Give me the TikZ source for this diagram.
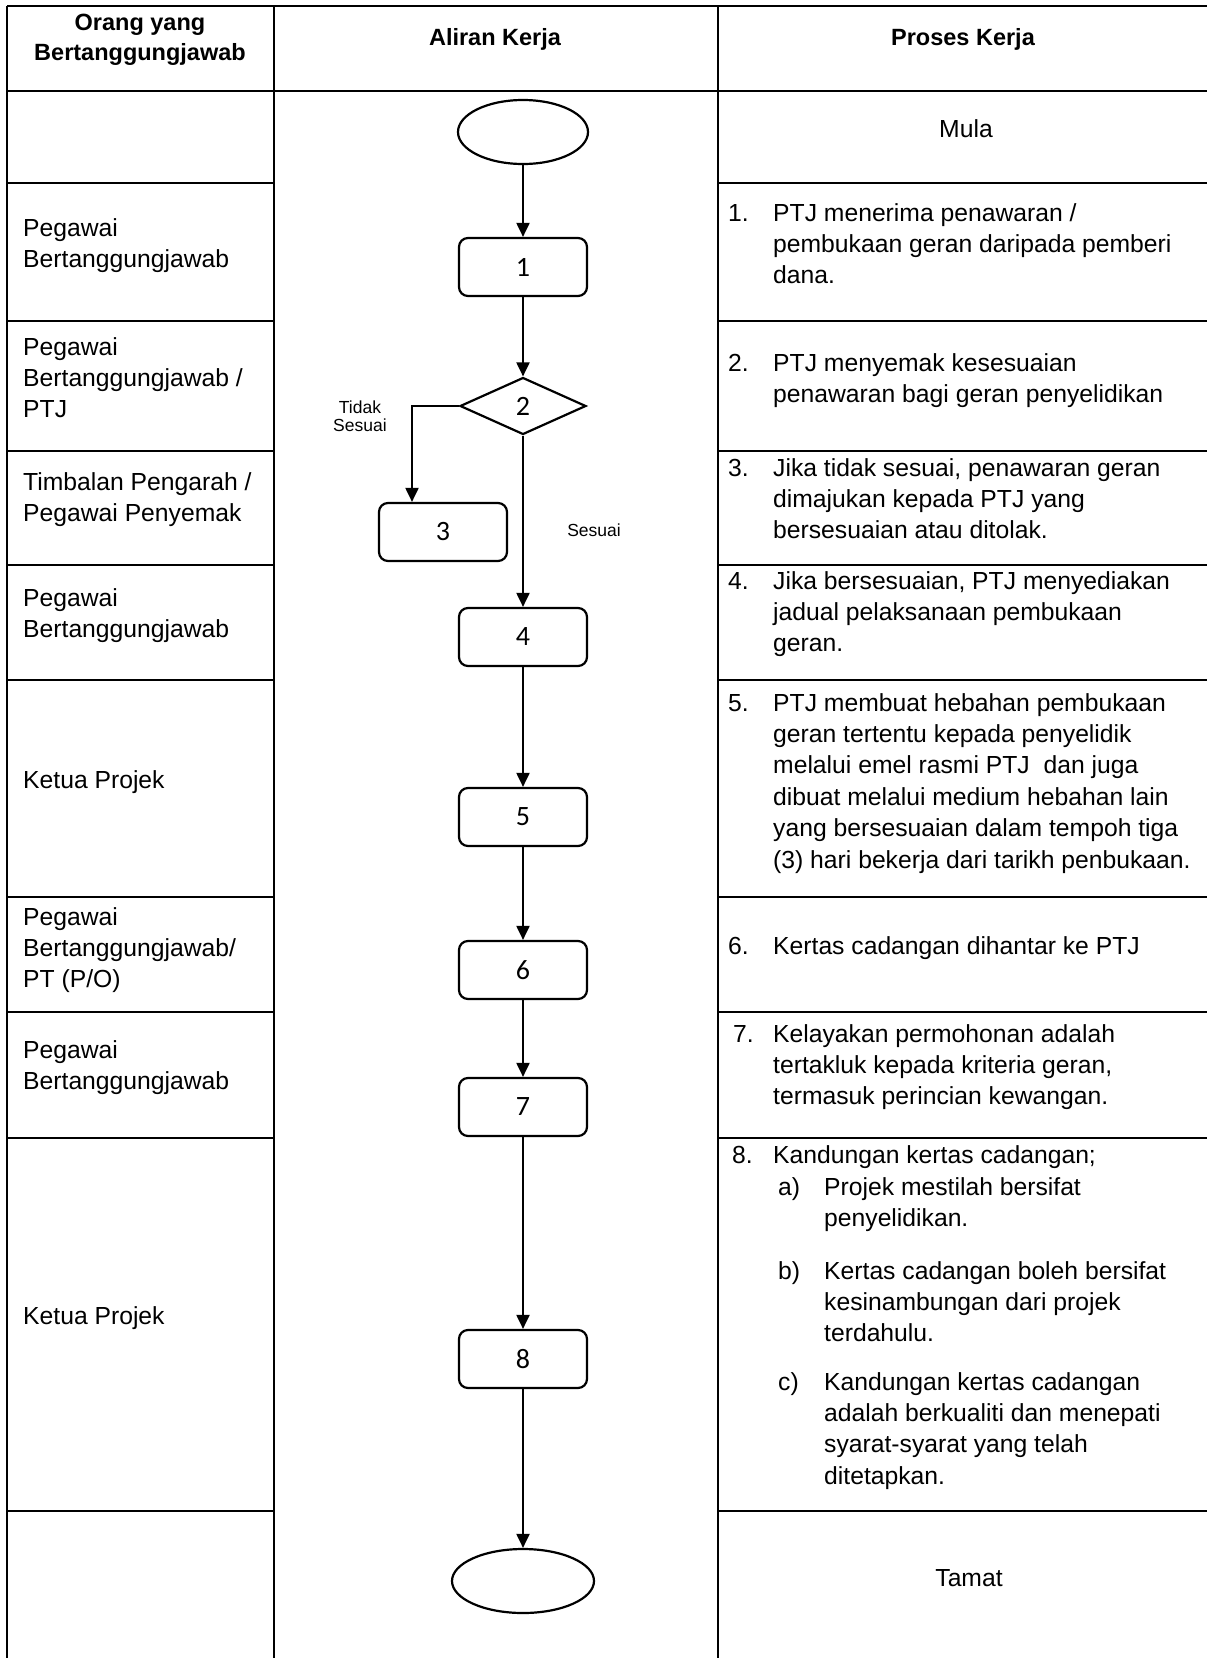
\documentclass[tikz,border=0pt]{standalone}
\usepackage{fontspec}
\setmainfont{Liberation Sans}
\newfontfamily\calibrifont{Carlito}
\usetikzlibrary{shapes.geometric,arrows.meta}
\begin{document}
\begin{tikzpicture}[x=1pt,y=-1pt,
  hrule/.style={line width=2.3pt},
  vrule/.style={line width=1.3pt},
  lbl/.style={anchor=north west,inner sep=0pt,align=left,font=\fontsize{24.7}{31.4}\selectfont},
  ctr/.style={anchor=center,inner sep=0pt,align=center,font=\fontsize{24.7}{31.4}\selectfont},
  hdr/.style={anchor=center,inner sep=0pt,align=center,font=\fontsize{23.5}{30}\selectfont\bfseries},
  term/.style={draw,ellipse,line width=2.2pt,minimum width=130pt,minimum height=64pt,inner sep=0pt},
  proc/.style={draw,rectangle,rounded corners=9pt,line width=2.2pt,minimum width=128pt,minimum height=58pt,inner sep=0pt,font=\calibrifont\fontsize{28}{32}\selectfont},
  dec/.style={draw,diamond,line width=2.2pt,minimum width=126pt,minimum height=57pt,inner sep=0pt,font=\calibrifont\fontsize{28}{32}\selectfont},
  flow/.style={line width=2pt,-{Triangle[width=13pt,length=14pt]}},
  small/.style={inner sep=0pt,align=center,font=\fontsize{17.5}{18.5}\selectfont}
]
\useasboundingbox (0,0) rectangle (1207,1658);
% table frame
\draw[vrule] (7,6) -- (1207,6);
\draw[hrule] (7,91) -- (1207,91);
\draw[vrule] (7,6) -- (7,1658);
\draw[vrule] (274,6) -- (274,1658);
\draw[vrule] (718,6) -- (718,1658);
\foreach \yy in {183,321,451,565,680,897,1012,1138,1511}{
  \draw[hrule] (7,\yy) -- (274,\yy);
  \draw[hrule] (718,\yy) -- (1207,\yy);
}
% headers
\node[hdr] (h1) at (140,40) {Orang yang\\Bertanggungjawab};
\node[hdr] (h2) at (495,39) {Aliran Kerja};
\node[hdr] (h3) at (963,39) {Proses Kerja};
% left column
\node[lbl] (L1) at (23,214) {\strut Pegawai\\Bertanggungjawab};
\node[lbl] (L2) at (23,333) {\strut Pegawai\\Bertanggungjawab /\\PTJ};
\node[lbl] (L3) at (23,468) {\strut Timbalan Pengarah /\\Pegawai Penyemak};
\node[lbl] (L4) at (23,584) {\strut Pegawai\\Bertanggungjawab};
\node[lbl] (L5) at (23,766) {\strut Ketua Projek};
\node[lbl] (L6) at (23,903) {\strut Pegawai\\Bertanggungjawab/\\PT (P/O)};
\node[lbl] (L7) at (23,1036) {\strut Pegawai\\Bertanggungjawab};
\node[lbl] (L8) at (23,1302) {\strut Ketua Projek};
% right column
\node[ctr] (mula) at (966,129) {Mula};
\node[lbl] (n1) at (728,199) {\strut 1.};
\node[lbl] (t1) at (773,199) {\strut PTJ menerima penawaran /\\pembukaan geran daripada pemberi\\dana.};
\node[lbl] (n2) at (728,349) {\strut 2.};
\node[lbl] (t2) at (773,349) {\strut PTJ menyemak kesesuaian\\penawaran bagi geran penyelidikan};
\node[lbl] (n3) at (728,454) {\strut 3.};
\node[lbl] (t3) at (773,454) {\strut Jika tidak sesuai, penawaran geran\\dimajukan kepada PTJ yang\\bersesuaian atau ditolak.};
\node[lbl] (n4) at (728,567) {\strut 4.};
\node[lbl] (t4) at (773,567) {\strut Jika bersesuaian, PTJ menyediakan\\jadual pelaksanaan pembukaan\\geran.};
\node[lbl] (n5) at (728,689) {\strut 5.};
\node[lbl] (t5) at (773,689) {\strut PTJ membuat hebahan pembukaan\\geran tertentu kepada penyelidik\\melalui emel rasmi PTJ\ \ dan juga\\dibuat melalui medium hebahan lain\\yang bersesuaian dalam tempoh tiga\\(3) hari bekerja dari tarikh penbukaan.};
\node[lbl] (n6) at (728,932) {\strut 6.};
\node[lbl] (t6) at (773,932) {\strut Kertas cadangan dihantar ke PTJ};
\node[lbl] (n7) at (733,1020) {\strut 7.};
\node[lbl] (t7) at (773,1020) {\strut Kelayakan permohonan adalah\\tertakluk kepada kriteria geran,\\termasuk perincian kewangan.};
\node[lbl] (n8) at (732,1141) {\strut 8.};
\node[lbl] (t8) at (773,1141) {\strut Kandungan kertas cadangan;};
\node[lbl] (na) at (778,1173) {\strut a)};
\node[lbl] (ta) at (824,1173) {\strut Projek mestilah bersifat\\penyelidikan.};
\node[lbl] (nb) at (778,1257) {\strut b)};
\node[lbl] (tb) at (824,1257) {\strut Kertas cadangan boleh bersifat\\kesinambungan dari projek\\terdahulu.};
\node[lbl] (nc) at (778,1368) {\strut c)};
\node[lbl] (tc) at (824,1368) {\strut Kandungan kertas cadangan\\adalah berkualiti dan menepati\\syarat-syarat yang telah\\ditetapkan.};
\node[ctr] (tamat) at (969,1578) {Tamat};
% flow nodes
\node[term] (start) at (523,132) {};
\node[proc] (b1) at (523,267) {1};
\node[dec] (d2) at (523,406) {2};
\node[proc] (b3) at (443,532) {3};
\node[proc] (b4) at (523,637) {4};
\node[proc] (b5) at (523,817) {5};
\node[proc] (b6) at (523,970) {6};
\node[proc] (b7) at (523,1107) {7};
\node[proc] (b8) at (523,1359) {8};
\node[term,minimum width=142pt] (end) at (523,1581) {};
% connectors
\draw[flow] (start) -- (b1);
\draw[flow] (b1) -- (d2);
\draw[flow] (d2.west) -| ([xshift=-31pt]b3.north);
\draw[flow] (d2) -- (b4);
\draw[flow] (b4) -- (b5);
\draw[flow] (b5) -- (b6);
\draw[flow] (b6) -- (b7);
\draw[flow] (b7) -- (b8);
\draw[flow] (b8) -- (end);
\node[small] (tidak) at (360,416) {Tidak\\Sesuai};
\node[small] (sesuai) at (594,530) {Sesuai};
\end{tikzpicture}
\end{document}
